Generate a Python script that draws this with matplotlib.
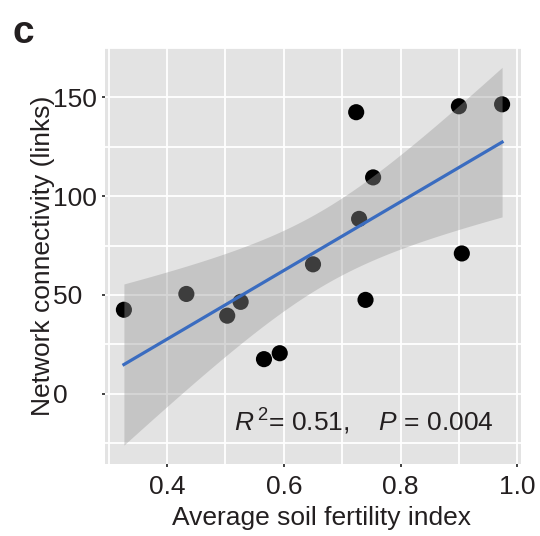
import numpy as np
import matplotlib
matplotlib.use("Agg")
import matplotlib.pyplot as plt

# ---- data ----
fertility = [0.326, 0.433, 0.503, 0.526, 0.566, 0.593, 0.650,
             0.724, 0.729, 0.753, 0.740, 0.900, 0.905, 0.974]
links = [42.5, 50.5, 39.5, 46.5, 17.5, 20.5, 65.5,
         142.5, 88.5, 109.5, 47.5, 145.5, 71.0, 146.5]
x_ticks = [0.4, 0.6, 0.8, 1.0]
x_ticklabels = ["0.4", "0.6", "0.8", "1.0"]
y_ticks = [0, 50, 100, 150]
y_ticklabels = ["0    ", "50  ", "100", "150"]
stats_text = r"$\it{R}^{\,2}$= 0.51,    $\it{P}$ = 0.004"

# ---- style ----
plt.rcParams['font.family'] = ['Liberation Sans', 'DejaVu Sans']
plt.rcParams['mathtext.fontset'] = 'custom'
plt.rcParams['mathtext.rm'] = 'Liberation Sans'
plt.rcParams['mathtext.it'] = 'Liberation Sans:italic'
TXT = '#231f20'

fig = plt.figure(figsize=(5.40, 5.36), dpi=100, facecolor='white')
ax = fig.add_axes([105 / 540, 1 - 464 / 536, 416 / 540, 416 / 536])
ax.set_facecolor('#e3e3e3')
for s in ax.spines.values():
    s.set_visible(False)

# ---- linear fit + 95% confidence band (like geom_smooth(method='lm')) ----
x = np.array(fertility)
y = np.array(links)
n = len(x)
slope, icpt = np.polyfit(x, y, 1)
resid = y - (icpt + slope * x)
s_err = np.sqrt(np.sum(resid ** 2) / (n - 2))
sxx = np.sum((x - x.mean()) ** 2)
t_crit = 2.1788  # t(0.975, df=12)
xg = np.linspace(x.min(), x.max(), 80)
yg = icpt + slope * xg
half = t_crit * s_err * np.sqrt(1 / n + (xg - x.mean()) ** 2 / sxx)

ax.scatter(x, y, s=135, color='black', edgecolors='none', zorder=3)
ax.fill_between(xg, yg - half, yg + half, color='#999999', alpha=0.4,
                linewidth=0, zorder=4)
ax.plot(xg, yg, color='#3a6cc0', linewidth=2.3, zorder=5)

# ---- axes ----
xr = x.max() - x.min()
ax.set_xlim(x.min() - 0.05 * xr, x.max() + 0.05 * xr)
ylo, yhi = (yg - half).min(), (yg + half).max()
yr = yhi - ylo
ax.set_ylim(ylo - 0.05 * yr, yhi + 0.05 * yr)

ax.set_xticks(x_ticks)
ax.set_xticklabels(x_ticklabels)
ax.set_yticks(y_ticks)
ax.set_yticklabels(y_ticklabels)
ax.set_xticks(np.arange(0.3, 1.01, 0.1), minor=True)
ax.set_yticks(np.arange(-25, 176, 25), minor=True)
ax.grid(True, which='both', color='white', linewidth=1.3)
ax.set_axisbelow(True)
ax.tick_params(which='major', length=2, width=1.3, color='#333333',
               labelsize=19, labelcolor=TXT, pad=6)
ax.tick_params(axis='y', which='major', pad=4)
ax.tick_params(which='minor', length=0)

ax.set_xlabel("Average soil fertility index", fontsize=19, color=TXT, labelpad=5)
ax.xaxis.label.set_x(0.52)
ax.set_ylabel("Network connectivity (links)", fontsize=19, color=TXT, labelpad=-2)

ax.text(0.738, -19, stats_text, fontsize=19, color=TXT,
        ha='center', va='baseline', zorder=6)

fig.text(12 / 540, 1 - 43 / 536, "c", fontsize=28, fontweight='bold',
         color=TXT, ha='left', va='baseline')

fig.savefig("out.png", dpi=100, facecolor='white')
